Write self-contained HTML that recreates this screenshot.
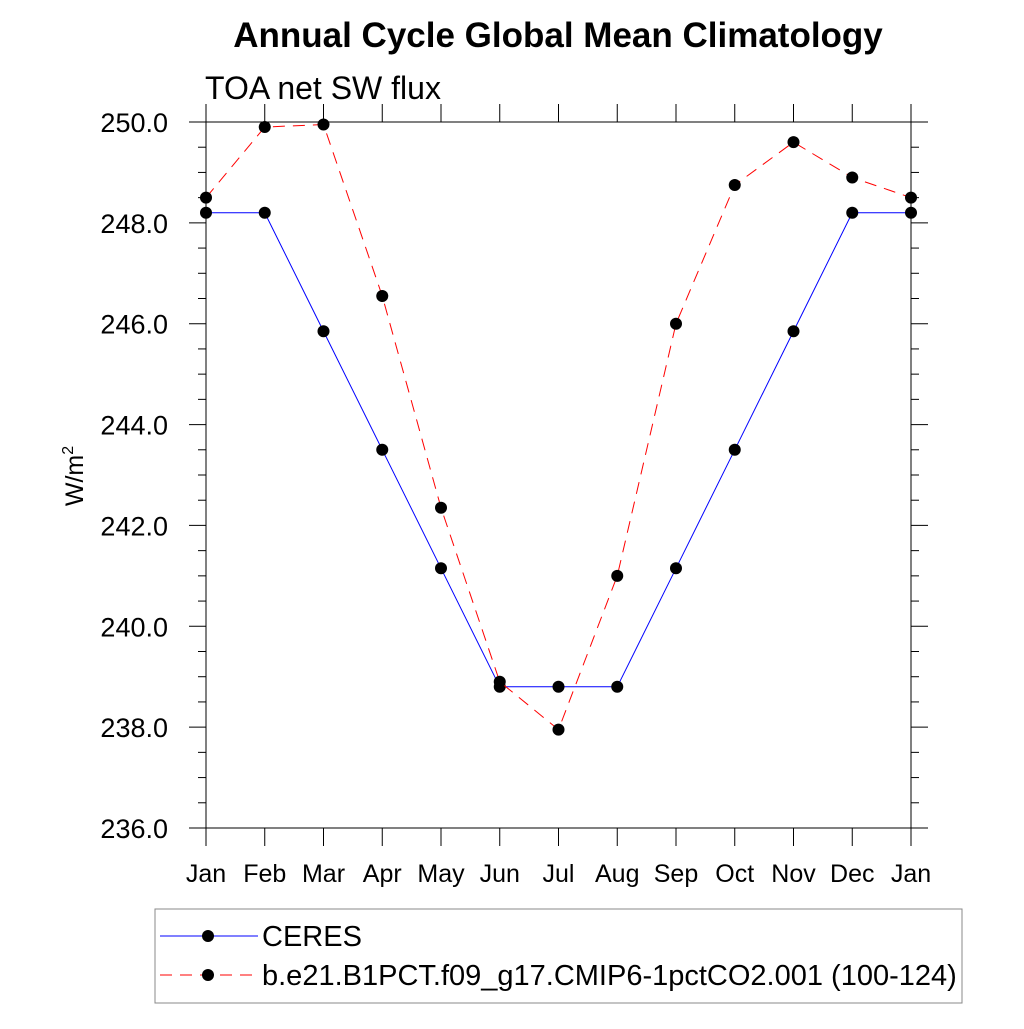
<!DOCTYPE html>
<html><head><meta charset="utf-8"><style>
body{margin:0;background:#fff}
svg text{font-family:"Liberation Sans",sans-serif}
</style></head><body>
<svg id="chart" width="1024" height="1024" viewBox="0 0 1024 1024" xmlns="http://www.w3.org/2000/svg">
<rect width="1024" height="1024" fill="#fff"/>
<text x="558" y="47" text-anchor="middle" font-size="35" font-weight="bold">Annual Cycle Global Mean Climatology</text>
<text x="205" y="99" font-size="32">TOA net SW flux</text>
<text transform="translate(83,476) rotate(-90)" text-anchor="middle" font-size="25">W/m<tspan dy="-10" font-size="16">2</tspan></text>
<g id="axes"></g>
<g id="series"></g>
<g>
<rect x="155" y="909" width="807" height="94" fill="none" stroke="#888" stroke-width="1"/>
<g>
<line x1="160" y1="936" x2="258" y2="936" stroke="#0000ff" stroke-width="1"/>
<circle cx="208" cy="936" r="6" fill="#000"/>
<text x="262" y="946" font-size="29">CERES</text></g>
<g>
<line x1="160" y1="975" x2="258" y2="975" stroke="#ff0000" stroke-width="1" stroke-dasharray="12,8"/>
<circle cx="208" cy="975" r="6" fill="#000"/>
<text x="262" y="985" font-size="29">b.e21.B1PCT.f09_g17.CMIP6-1pctCO2.001 (100-124)</text></g>
</g>
</svg>
<script>
const months=["Jan","Feb","Mar","Apr","May","Jun","Jul","Aug","Sep","Oct","Nov","Dec","Jan"];
const ceres=[248.2,248.2,245.85,243.5,241.15,238.8,238.8,238.8,241.15,243.5,245.85,248.2,248.2];
const model=[248.5,249.9,249.95,246.55,242.35,238.9,237.95,241.0,246.0,248.75,249.6,248.9,248.5];
const yTicks=[236,238,240,242,244,246,248,250];
const X0=206,X1=911,Y0=828,Y1=122,YMIN=236,YMAX=250;
const xs=i=>X0+(X1-X0)*i/12;
const ys=v=>Y0-(v-YMIN)/(YMAX-YMIN)*(Y0-Y1);
const NS="http://www.w3.org/2000/svg";
function mk(tag,attrs,parent){const e=document.createElementNS(NS,tag);for(const k in attrs)e.setAttribute(k,attrs[k]);parent.appendChild(e);return e;}
const ax=document.getElementById('axes');
const frame=mk('rect',{x:X0,y:Y1,width:X1-X0,height:Y0-Y1,fill:'none',stroke:'#000','stroke-width':1},ax);


for(let v=YMIN;v<=YMAX+1e-9;v+=0.5){
  const y=ys(v);const major=Math.abs(v-Math.round(v))<1e-9&&Math.round(v)%2===0;const L=major?17:8;
  mk('line',{x1:X0-L,y1:y,x2:X0,y2:y,stroke:'#000','stroke-width':1},ax);
  mk('line',{x1:X1,y1:y,x2:X1+L,y2:y,stroke:'#000','stroke-width':1},ax);
}
yTicks.forEach(v=>{const t=mk('text',{x:168,y:ys(v)+10,'text-anchor':'end','font-size':27},ax);t.textContent=v.toFixed(1);

});
months.forEach((m,i)=>{const x=xs(i);
  mk('line',{x1:x,y1:Y0,x2:x,y2:Y0+18,stroke:'#000','stroke-width':1},ax);
  mk('line',{x1:x,y1:Y1-18,x2:x,y2:Y1,stroke:'#000','stroke-width':1},ax);
  const t=mk('text',{x:x,y:882,'text-anchor':'middle','font-size':25},ax);t.textContent=m;
  
  });
const sg=document.getElementById('series');
function draw(vals,color,dash,name){
  const g=mk('g',{},sg);
  
  
  mk('polyline',{points:vals.map((v,i)=>xs(i)+','+ys(v)).join(' '),fill:'none',stroke:color,'stroke-width':1,'stroke-dasharray':dash},g);
  vals.forEach((v,i)=>{const c=mk('circle',{cx:xs(i),cy:ys(v),r:6,fill:'#000'},g);
    
    });
}
draw(ceres,'#0000ff','none','ceres-series');
draw(model,'#ff0000','12,8','model-series');
</script>
</body></html>
